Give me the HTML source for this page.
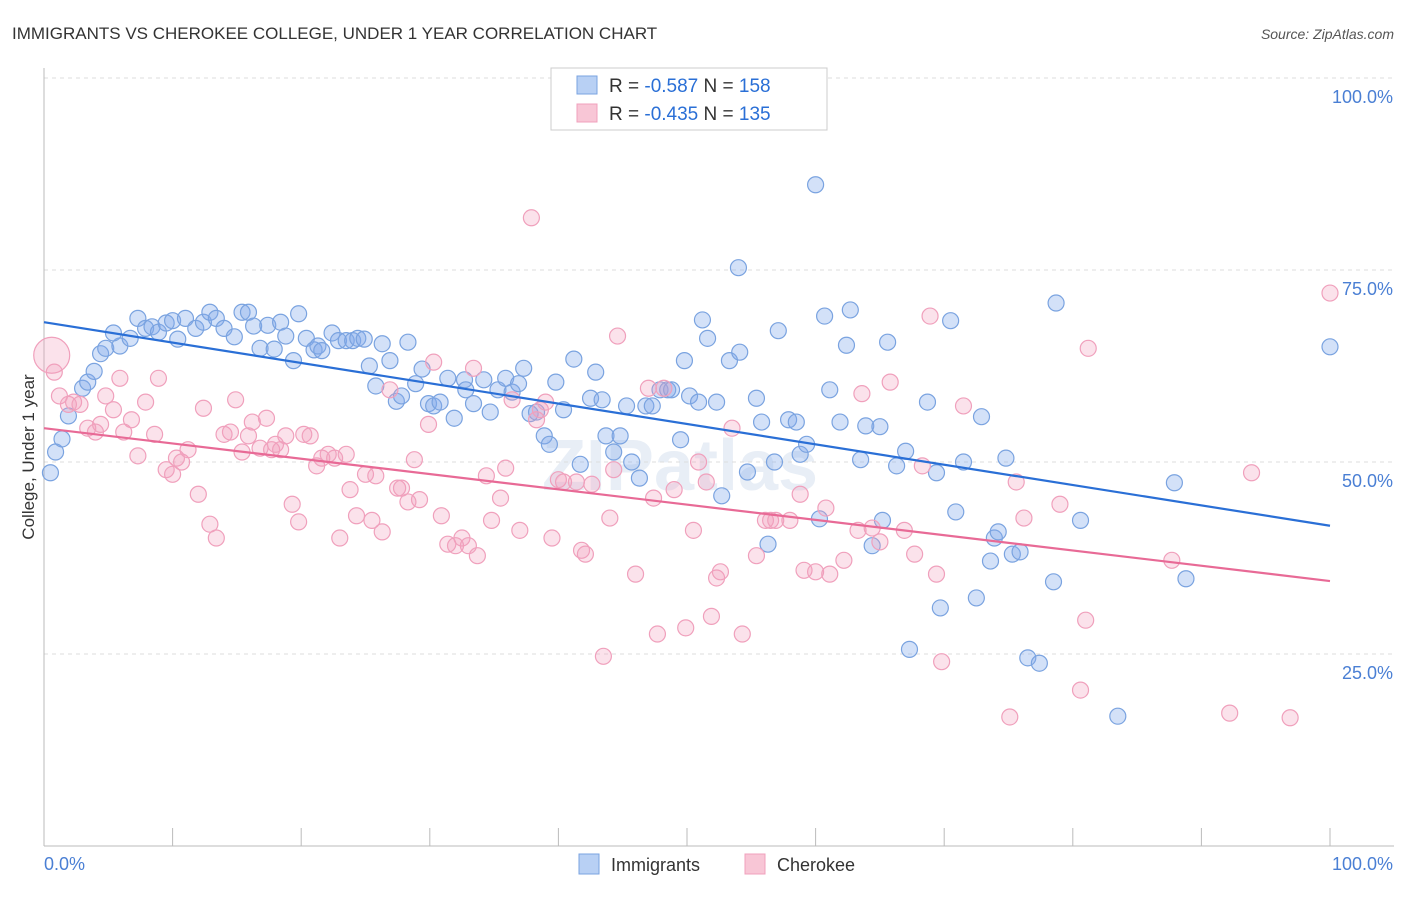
<!DOCTYPE html>
<html><head><meta charset="utf-8"><style>
body{margin:0;background:#fff;font-family:"Liberation Sans",sans-serif;}
svg text{font-family:"Liberation Sans",sans-serif;}
</style></head><body>
<svg id="chart" width="1406" height="892" viewBox="0 0 1406 892" xmlns="http://www.w3.org/2000/svg">
<text x="12" y="39" font-size="17" fill="#333">IMMIGRANTS VS CHEROKEE COLLEGE, UNDER 1 YEAR CORRELATION CHART</text>
<text x="1394" y="39" font-size="14" fill="#555" font-style="italic" text-anchor="end">Source: ZipAtlas.com</text>
<text x="680" y="490" font-size="72" fill="#e8eef6" text-anchor="middle" font-weight="bold">ZIPatlas</text>
<g id="grid"></g>
<g id="axes"></g>
<g id="points"></g>
<g id="lines"></g>
<text transform="translate(34,457) rotate(-90)" font-size="17" fill="#333" text-anchor="middle">College, Under 1 year</text>
<text x="44" y="870" font-size="18" fill="#4a7fd4">0.0%</text>
<text x="1393" y="870" font-size="18" fill="#4a7fd4" text-anchor="end">100.0%</text>
<g>
<rect x="551" y="68" width="276" height="62" fill="#fff" stroke="#ccc"/>
<rect x="577" y="76" width="20" height="18" fill="#b8d0f4" stroke="#7aa3e0"/>
<rect x="577" y="104" width="20" height="18" fill="#f8c6d6" stroke="#f0a0bc"/>
<text x="609" y="92" font-size="19" fill="#333">R = <tspan fill="#2a6fd6">-0.587</tspan>   N = <tspan fill="#2a6fd6">158</tspan></text>
<text x="609" y="120" font-size="19" fill="#333">R = <tspan fill="#2a6fd6">-0.435</tspan>   N = <tspan fill="#2a6fd6">135</tspan></text>
</g>
<g><rect x="579" y="854" width="20" height="20" fill="#b8d0f4" stroke="#7aa3e0"/><text x="611" y="871" font-size="18" fill="#333">Immigrants</text></g>
<g><rect x="745" y="854" width="20" height="20" fill="#f8c6d6" stroke="#f0a0bc"/><text x="777" y="871" font-size="18" fill="#333">Cherokee</text></g>
</svg>
<script>
const blueX=[0.5,0.9,1.4,1.9,3.0,3.4,3.9,4.4,4.8,5.9,5.4,6.7,7.3,7.9,8.4,8.9,9.5,10.0,10.4,11.0,11.8,12.4,12.9,13.4,14.0,14.8,15.4,15.9,16.3,16.8,17.4,17.9,18.4,18.8,19.4,19.8,20.4,21.0,21.3,21.6,22.4,22.9,23.5,24.0,24.4,24.9,25.3,25.8,26.3,26.9,27.4,27.8,28.3,28.9,29.4,29.9,30.3,30.8,31.4,31.9,32.7,32.8,33.4,34.2,34.7,35.3,35.9,36.4,36.9,37.3,37.8,38.3,38.9,39.3,39.8,40.4,41.2,41.7,42.5,42.9,43.4,43.7,44.3,44.8,45.3,45.7,46.3,46.8,47.3,47.9,48.5,48.8,49.5,49.8,50.2,50.9,51.2,51.6,52.3,52.7,53.3,54.1,54.0,54.7,55.4,55.8,56.3,56.8,57.1,57.9,58.5,58.8,59.3,60.0,60.3,60.7,61.1,61.9,62.4,62.7,63.5,63.9,64.4,65.0,65.2,65.6,66.3,67.0,67.3,68.7,69.4,69.7,70.5,70.9,71.5,72.5,72.9,73.6,73.9,74.2,74.8,75.3,75.9,76.5,77.4,78.5,78.7,80.6,83.5,87.9,88.8,100.0];
const blueY=[48.6,51.3,53.0,56.0,59.6,60.4,61.8,64.1,64.8,65.1,66.8,66.1,68.7,67.4,67.6,66.9,68.1,68.4,66.0,68.7,67.4,68.2,69.5,68.7,67.4,66.3,69.5,69.5,67.7,64.8,67.8,64.7,68.2,66.4,63.2,69.3,66.1,64.6,65.1,64.5,66.8,65.8,65.8,65.8,66.1,66.0,62.5,59.9,65.4,63.2,57.9,58.6,65.6,60.2,62.1,57.6,57.3,57.8,60.9,55.7,60.7,59.4,57.6,60.7,56.5,59.4,60.9,59.1,60.2,62.2,56.3,56.5,53.4,52.3,60.4,56.8,63.4,49.7,58.3,61.7,58.1,53.4,51.3,53.4,57.3,50.0,47.9,57.3,57.3,59.4,59.4,59.4,52.9,63.2,58.6,57.8,68.5,66.1,57.8,45.6,63.2,64.3,75.3,48.7,58.3,55.2,39.3,50.0,67.1,55.5,55.2,51.0,52.3,86.1,42.6,69.0,59.4,55.2,65.2,69.8,50.3,54.7,39.1,54.6,42.4,65.6,49.5,51.4,25.6,57.8,48.6,31.0,68.4,43.5,50.0,32.3,55.9,37.1,40.1,40.9,50.5,38.0,38.3,24.5,23.8,34.4,70.7,42.4,16.9,47.3,34.8,65.0];
const pinkX=[0.6,0.8,1.2,1.9,2.3,2.8,3.4,4.0,4.4,4.8,5.4,5.9,6.2,6.8,7.3,7.9,8.6,8.9,9.5,10.0,10.3,10.7,11.2,12.0,12.4,12.9,13.4,14.0,14.5,14.9,15.4,15.9,16.2,16.8,17.3,17.7,18.0,18.4,18.8,19.3,19.8,20.2,20.7,21.2,21.6,22.1,22.6,23.0,23.5,23.8,24.3,25.0,25.5,25.8,26.3,26.9,27.5,27.8,28.3,28.8,29.2,29.9,30.3,30.9,31.4,32.0,32.5,33.0,33.4,33.7,34.4,34.8,35.5,35.9,36.4,37.0,37.9,38.3,38.6,39.0,39.5,40.0,40.4,41.4,41.8,42.1,42.6,43.5,44.0,44.3,44.6,46.0,47.0,47.4,47.7,48.2,49.0,49.9,50.5,50.9,51.5,51.9,52.3,52.6,53.5,54.3,55.4,56.1,56.5,56.9,58.0,58.8,59.1,60.0,60.8,61.1,62.2,63.3,63.6,64.4,65.0,65.8,66.9,67.7,68.3,68.9,69.4,69.8,71.5,75.1,75.6,76.2,79.0,80.6,81.0,81.2,87.7,92.2,93.9,96.9,100.0];
const pinkY=[63.9,61.7,58.6,57.5,57.8,57.5,54.4,53.9,54.9,58.6,56.8,60.9,53.9,55.5,50.8,57.8,53.6,60.9,49.0,48.4,50.5,50.0,51.6,45.8,57.0,41.9,40.1,53.6,53.9,58.1,51.3,53.4,55.2,51.8,55.7,51.6,52.3,51.6,53.4,44.5,42.2,53.6,53.4,49.5,50.5,51.0,50.5,40.1,51.0,46.4,43.0,48.4,42.4,48.2,40.9,59.4,46.6,46.6,44.8,50.3,45.1,54.9,63.0,43.0,39.3,39.1,40.1,39.1,62.2,37.8,48.2,42.4,45.3,49.2,58.1,41.1,81.8,55.5,56.8,57.8,40.1,47.7,47.4,47.4,38.5,38.0,47.1,24.7,42.7,49.0,66.4,35.4,59.6,45.3,27.6,59.6,46.4,28.4,41.1,50.0,47.4,29.9,34.9,35.7,54.4,27.6,37.8,42.4,42.4,42.4,42.4,45.8,35.9,35.7,44.0,35.4,37.2,41.1,58.9,41.4,39.6,60.4,41.1,38.0,49.5,69.0,35.4,24.0,57.3,16.8,47.4,42.7,44.5,20.3,29.4,64.8,37.2,17.3,48.6,16.7,72.0];
const trendXs=[0,100];
const blueTrend=[68.2,41.7];
const pinkTrend=[54.4,34.5];
const yTicks=[25,50,75,100];
const yTickLabels=["25.0%","50.0%","75.0%","100.0%"];
const xTicks=[0,10,20,30,40,50,60,70,80,90,100];

const X0=44,X1=1330,Y0=846,Y100=78;
const sx=v=>X0+(X1-X0)*v/100;
const sy=v=>Y0-(Y0-Y100)*v/100;
const NS="http://www.w3.org/2000/svg";
function mk(tag,attrs,parent){const e=document.createElementNS(NS,tag);for(const k in attrs)e.setAttribute(k,attrs[k]);parent.appendChild(e);return e;}
const grid=document.getElementById('grid'),axes=document.getElementById('axes'),pts=document.getElementById('points'),lines=document.getElementById('lines');
yTicks.forEach((t,i)=>{
  const g=mk('line',{x1:X0,x2:1394,y1:sy(t),y2:sy(t),stroke:'#ddd','stroke-dasharray':'4,4'},grid);
  
  
  const tx=mk('text',{x:1393,y:sy(t)+25,'font-size':18,fill:'#4a7fd4','text-anchor':'end'},grid);
  tx.textContent=yTickLabels[i];
  
  
});
const xa=mk('line',{x1:X0,x2:1394,y1:Y0,y2:Y0,stroke:'#bbb'},axes);


const ya=mk('line',{x1:X0,x2:X0,y1:68,y2:Y0,stroke:'#bbb'},axes);


xTicks.forEach(t=>{
  const l=mk('line',{x1:sx(t),x2:sx(t),y1:828,y2:Y0,stroke:'#bbb'},axes);
  
  
});
blueX.forEach((x,i)=>{
  const c=mk('circle',{cx:sx(x),cy:sy(blueY[i]),r:8,fill:'rgba(130,170,235,0.35)',stroke:'#7aa3e0','stroke-width':1.2},pts);
  
  
});
pinkX.forEach((x,i)=>{
  const c=mk('circle',{cx:sx(x),cy:sy(pinkY[i]),r:i===0?18:8,fill:'rgba(242,160,190,0.3)',stroke:'#f0a0bc','stroke-width':1.2},pts);
  
  
});
const bl=mk('line',{x1:sx(trendXs[0]),y1:sy(blueTrend[0]),x2:sx(trendXs[1]),y2:sy(blueTrend[1]),stroke:'#2a6fd6','stroke-width':2.2},lines);


const pl=mk('line',{x1:sx(trendXs[0]),y1:sy(pinkTrend[0]),x2:sx(trendXs[1]),y2:sy(pinkTrend[1]),stroke:'#e86a96','stroke-width':2.2},lines);


</script>
</body></html>
